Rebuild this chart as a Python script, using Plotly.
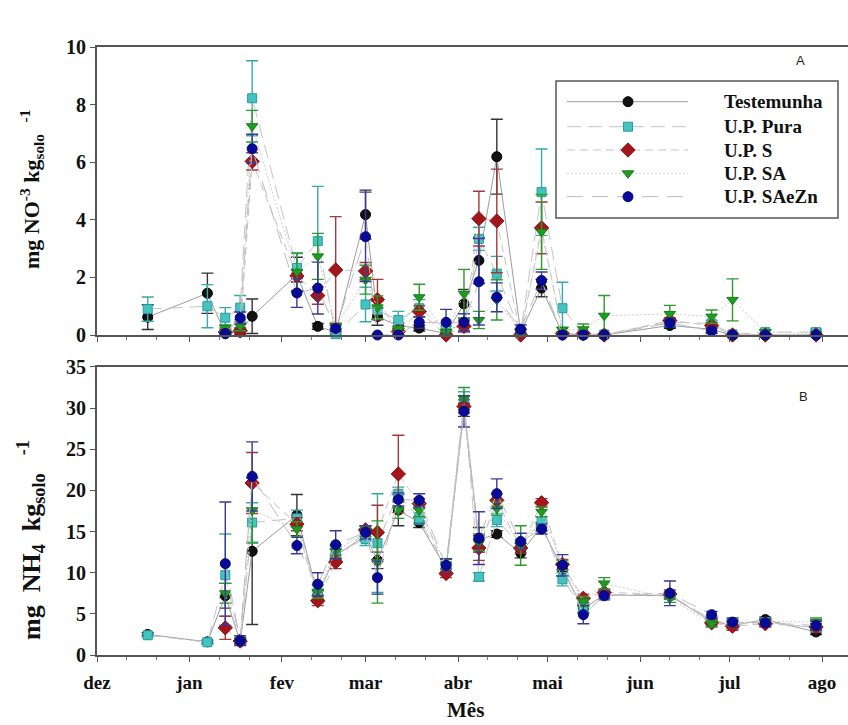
import plotly.graph_objects as go

# Sampling dates (day of collection)
dates = ["2012-12-18", "2013-01-07", "2013-01-13", "2013-01-18", "2013-01-22",
         "2013-02-06", "2013-02-13", "2013-02-19", "2013-03-01", "2013-03-05",
         "2013-03-12", "2013-03-19", "2013-03-28", "2013-04-03", "2013-04-08",
         "2013-04-14", "2013-04-22", "2013-04-29", "2013-05-06", "2013-05-13",
         "2013-05-20", "2013-06-11", "2013-06-25", "2013-07-02", "2013-07-13",
         "2013-07-30"]

month_ticks = ["2012-12-01", "2013-01-01", "2013-02-01", "2013-03-01", "2013-04-01",
               "2013-05-01", "2013-06-01", "2013-07-01", "2013-08-01"]
month_labels = ["dez", "jan", "fev", "mar", "abr", "mai", "jun", "jul", "ago"]

series_names = ["Testemunha", "U.P. Pura", "U.P. S", "U.P. SA", "U.P. SAeZn"]

# Panel A: nitrate (mg NO3 per kg soil), mean and error
no3_test = [0.62, 1.45, 0.05, 0.1, 0.65, 2.1, 0.3, 0.1, 4.18, 0.64, 0.32, 0.24, 0.05,
            1.08, 2.59, 6.19, 0.1, 1.63, 0.05, 0.0, 0.0, 0.33, 0.2, 0.0, 0.0, 0.0]
no3_test_err = [0.43, 0.7, 0.05, 0.1, 0.6, 0.6, 0.1, 0.1, 0.85, 0.3, 0.1, 0.1, 0.05,
                0.5, 0.8, 1.3, 0.1, 0.3, 0.05, 0, 0, 0.1, 0.1, 0, 0, 0]
no3_pura = [0.9, 1.0, 0.6, 0.95, 8.22, 2.33, 3.26, 0.03, 1.06, 0.87, 0.52, 0.93, 0.2,
            0.33, 3.34, 2.13, 0.1, 4.96, 0.93, 0.05, 0.02, 0.45, 0.4, 0.02, 0.1, 0.1]
no3_pura_err = [0.42, 0.75, 0.35, 0.42, 1.3, 0.5, 1.9, 0.05, 0.6, 0.3, 0.3, 0.3, 0.1,
                0.2, 0.4, 0.6, 0.1, 1.5, 0.9, 0.05, 0.05, 0.1, 0.1, 0.05, 0.08, 0.1]
no3_s = [None, None, 0.1, 0.15, 6.03, 2.05, 1.37, 2.26, 2.22, 1.23, 0.12, 0.82, 0.0,
         0.3, 4.04, 3.96, 0.0, 3.72, 0.05, 0.05, 0.0, 0.5, 0.33, 0.0, 0.0, 0.0]
no3_s_err = [None, None, 0.1, 0.1, 0.3, 0.2, 0.3, 1.85, 0.3, 0.7, 0.1, 0.2, 0.05,
             0.2, 0.95, 1.8, 0.05, 0.9, 0.05, 0.05, 0, 0.1, 0.1, 0, 0, 0]
no3_sa = [None, None, 0.25, 0.3, 7.25, 2.2, 2.73, 0.3, 1.92, 0.96, 0.2, 1.31, 0.1,
          1.43, 0.52, 1.22, 0.1, 3.58, 0.17, 0.2, 0.67, 0.73, 0.64, 1.22, 0.1, 0.05]
no3_sa_err = [None, None, 0.1, 0.15, 0.55, 0.65, 0.8, 0.1, 0.5, 0.4, 0.1, 0.45, 0.1,
              0.85, 0.3, 0.7, 0.1, 1.3, 0.1, 0.18, 0.7, 0.3, 0.23, 0.73, 0.08, 0.05]
no3_zn = [None, None, 0.05, 0.6, 6.47, 1.46, 1.63, 0.23, 3.41, 0.0, 0.0, 0.44, 0.44,
          0.44, 1.85, 1.31, 0.2, 1.89, 0.0, 0.0, 0.0, 0.42, 0.15, 0.0, 0.0, 0.0]
no3_zn_err = [None, None, 0.05, 0.2, 0.5, 0.5, 0.9, 0.1, 1.55, 0, 0, 0.2, 0.45,
              0.3, 1.5, 0.5, 0.15, 0.3, 0, 0, 0, 0.15, 0.1, 0, 0, 0]

# Panel B: ammonium (mg NH4 per kg soil), mean and error
nh4_test = [2.5, 1.6, 7.2, 1.6, 12.6, 17.0, 7.3, 12.1, 14.5, 11.5, 17.6, 16.1, 10.5,
            29.8, 14.0, 14.7, 12.4, 15.6, 10.4, 5.6, 7.3, 7.2, 4.1, 3.6, 4.3, 2.8]
nh4_test_err = [0.2, 0.2, 1.5, 0.3, 8.9, 2.5, 0.6, 0.8, 0.6, 1.0, 1.9, 0.6, 0.5,
                0.8, 1.5, 0.4, 0.6, 0.5, 0.8, 0.5, 0.4, 0.4, 0.3, 0.4, 0.3, 0.3]
nh4_pura = [2.4, 1.55, 9.7, 1.7, 16.1, 16.6, 7.0, 12.4, 14.1, 13.6, 19.6, 16.6, 10.5,
            31.0, 9.5, 16.4, 13.4, 16.2, 9.2, 5.7, 7.3, 7.3, 4.3, 3.7, 4.0, 3.3]
nh4_pura_err = [0.2, 0.2, 5.0, 0.3, 2.4, 1.0, 0.7, 0.8, 0.8, 6.0, 0.8, 0.7, 0.5,
                1.0, 0.5, 0.8, 0.6, 0.6, 0.8, 0.5, 0.4, 0.4, 0.4, 0.4, 0.3, 0.4]
nh4_s = [None, None, 3.3, 1.7, 20.9, 15.9, 6.6, 11.3, 15.2, 14.9, 22.0, 18.4, 9.9,
         30.2, 13.0, 18.8, 13.0, 18.5, 11.0, 6.9, 7.6, 7.4, 3.9, 3.5, 3.8, 3.4]
nh4_s_err = [None, None, 1.4, 0.3, 3.7, 0.8, 0.6, 0.8, 0.5, 3.3, 4.7, 0.6, 0.5,
             0.8, 1.5, 0.8, 0.6, 0.5, 0.6, 0.5, 0.4, 0.5, 0.4, 0.5, 0.4, 0.4]
nh4_sa = [None, None, 7.5, 1.8, 17.6, 15.3, 7.7, 12.6, 15.0, 11.3, 17.6, 17.6, 11.0,
          31.2, 13.7, 17.8, 13.3, 17.4, 10.9, 6.5, 8.7, 6.9, 3.8, 3.9, 4.1, 4.0]
nh4_sa_err = [None, None, 1.2, 0.3, 4.0, 0.9, 0.8, 0.8, 0.6, 5.0, 1.0, 0.8, 0.6,
              1.3, 1.0, 0.8, 2.4, 0.6, 0.6, 0.6, 0.7, 0.5, 0.4, 0.4, 0.3, 0.5]
nh4_zn = [None, None, 11.1, 1.74, 21.7, 13.3, 8.6, 13.4, 14.9, 9.4, 18.9, 18.8, 10.9,
          29.6, 14.2, 19.6, 13.8, 15.3, 10.9, 4.9, 7.2, 7.5, 4.9, 4.0, 3.9, 3.6]
nh4_zn_err = [None, None, 7.5, 0.6, 4.2, 1.0, 1.4, 1.7, 0.8, 2.0, 0.8, 0.8, 0.8,
              1.9, 3.2, 1.8, 1.0, 0.6, 1.3, 1.1, 0.5, 1.5, 0.4, 0.5, 0.4, 0.5]

no3_values = [no3_test, no3_pura, no3_s, no3_sa, no3_zn]
no3_errors = [no3_test_err, no3_pura_err, no3_s_err, no3_sa_err, no3_zn_err]
nh4_values = [nh4_test, nh4_pura, nh4_s, nh4_sa, nh4_zn]
nh4_errors = [nh4_test_err, nh4_pura_err, nh4_s_err, nh4_sa_err, nh4_zn_err]

# Styling for each treatment
styles = [
    dict(symbol="circle", size=10, color="#111111", edge="#000000", err="#333333",
         line="#9c9c9c", dash="solid"),
    dict(symbol="square", size=9, color="#45c3c3", edge="#2a9a9a", err="#3aa8a8",
         line="#c4c4c4", dash="14px,7px"),
    dict(symbol="diamond", size=11, color="#a3171c", edge="#8a1216", err="#a33a3a",
         line="#c4c4c4", dash="8px,5px"),
    dict(symbol="triangle-down", size=10, color="#1f9a22", edge="#17801a", err="#2c9a2c",
         line="#cccccc", dash="2px,2px"),
    dict(symbol="circle", size=10, color="#0a0a98", edge="#06067a", err="#3a3a96",
         line="#bcbcbc", dash="16px,9px"),
]

SERIF = "Liberation Serif, Times New Roman, serif"
NB = "\u00a0"

# Plot area in pixels: left 97, right 848, top 47, bottom 655
L, R, T, B = 97.0, 848.0, 47.0, 655.0


def px_x(p):
    return (p - L) / (R - L)


def px_y(p):
    return (B - p) / (B - T)


fig = go.Figure()

for vals_list, errs_list, xa, ya in [(no3_values, no3_errors, "x", "y"),
                                     (nh4_values, nh4_errors, "x2", "y2")]:
    for name, vals, errs, st in zip(series_names, vals_list, errs_list, styles):
        fig.add_trace(go.Scatter(
            x=dates, y=vals, name=name, mode="lines+markers",
            xaxis=xa, yaxis=ya, showlegend=False, cliponaxis=False,
            line=dict(color=st["line"], width=1, dash=st["dash"]),
            marker=dict(symbol=st["symbol"], size=st["size"], color=st["color"],
                        line=dict(color=st["edge"], width=1)),
            error_y=dict(type="data", array=errs, visible=True, color=st["err"],
                         thickness=1.4, width=6),
        ))

# Legend key drawn on a pixel-scaled helper axis
legend_rows = [101.7, 126.7, 150.0, 173.3, 196.7]
shapes = [dict(type="rect", xref="x3", yref="y3", x0=556, x1=838, y0=81, y1=218,
               line=dict(color="#555555", width=1.5), fillcolor="white", layer="below")]
annotations = []
for name, st, ry in zip(series_names, styles, legend_rows):
    shapes.append(dict(type="line", xref="x3", yref="y3", x0=567, x1=688, y0=ry, y1=ry,
                       line=dict(color=st["line"], width=1, dash=st["dash"]), layer="below"))
    fig.add_trace(go.Scatter(
        x=[628], y=[ry], mode="markers", xaxis="x3", yaxis="y3", showlegend=False,
        hoverinfo="skip", cliponaxis=False,
        marker=dict(symbol=st["symbol"], size=st["size"], color=st["color"],
                    line=dict(color=st["edge"], width=1)),
    ))
    annotations.append(dict(xref="x3", yref="y3", x=722, y=ry, text=name,
                            showarrow=False, xanchor="left", yanchor="middle",
                            font=dict(family=SERIF, size=19, color="#111111",
                                      weight="bold")))

# Panel letters
annotations.append(dict(xref="x3", yref="y3", x=800, y=60, text="A", showarrow=False,
                        font=dict(family="Liberation Sans, Arial, sans-serif", size=13,
                                  color="#222222")))
annotations.append(dict(xref="x3", yref="y3", x=803, y=396, text="B", showarrow=False,
                        font=dict(family="Liberation Sans, Arial, sans-serif", size=13,
                                  color="#222222")))

# Axis titles (paper coordinates, outside the plotting area)
annotations.append(dict(xref="paper", yref="paper", x=px_x(31), y=px_y(190),
                        xanchor="center", yanchor="middle", textangle=-90,
                        text="mg NO<sup>-3</sup> kg<sub>solo</sub><sup>" + NB * 3 + "-1</sup>",
                        showarrow=False,
                        font=dict(family=SERIF, size=22, color="#111111", weight="bold")))
annotations.append(dict(xref="paper", yref="paper", x=px_x(31), y=px_y(540),
                        xanchor="center", yanchor="middle", textangle=-90,
                        text="mg" + NB * 2 + "NH<sub>4</sub>" + NB * 2 + "kg<sub>solo</sub><sup>"
                             + NB * 4 + "-1</sup>",
                        showarrow=False,
                        font=dict(family=SERIF, size=26, color="#111111", weight="bold")))
annotations.append(dict(xref="paper", yref="paper", x=px_x(465), y=px_y(710),
                        xanchor="center", yanchor="middle", borderpad=0,
                        text="Mês", showarrow=False,
                        font=dict(family=SERIF, size=21, color="#111111", weight="bold")))

minor_ticks = []
for m in month_ticks:
    minor_ticks += [m[:8] + "11", m[:8] + "21"]

x_common = dict(type="date", range=["2012-12-01", "2013-08-09T17:00"],
                tickmode="array", tickvals=month_ticks, ticktext=month_labels,
                ticks="outside", ticklen=5, tickwidth=1.2, tickcolor="#555555",
                showline=True, linecolor="#555555", linewidth=2, mirror=True,
                showgrid=False, zeroline=False,
                minor=dict(tickmode="array", tickvals=minor_ticks, ticks="outside",
                           ticklen=3, tickcolor="#777777", showgrid=False),
                tickfont=dict(family=SERIF, size=19, color="#111111", weight="bold"))
y_common = dict(ticks="outside", ticklen=5, tickwidth=1.2, tickcolor="#555555",
                showline=True, linecolor="#555555", linewidth=2, mirror=False,
                showgrid=False, zeroline=False,
                tickfont=dict(family=SERIF, size=20, color="#111111", weight="bold"))

fig.update_layout(
    width=848, height=725,
    margin=dict(l=97, r=0, t=47, b=70),
    paper_bgcolor="white", plot_bgcolor="rgba(0,0,0,0)",
    showlegend=False,
    xaxis=dict(x_common, anchor="y", domain=[0, 1], showticklabels=False),
    yaxis=dict(y_common, anchor="x", domain=[0.5263, 1], range=[0, 10],
               tickvals=[0, 2, 4, 6, 8, 10]),
    xaxis2=dict(x_common, anchor="y2", domain=[0, 1], showticklabels=True,
                ticklabelstandoff=4),
    yaxis2=dict(y_common, anchor="x2", domain=[0, 0.4737], range=[0, 35],
                tickvals=[0, 5, 10, 15, 20, 25, 30, 35]),
    xaxis3=dict(domain=[0, 1], range=[L, R], visible=False, anchor="y3",
                fixedrange=True),
    yaxis3=dict(domain=[0, 1], range=[B, T], visible=False, anchor="x3",
                fixedrange=True),
    shapes=shapes,
    annotations=annotations,
)

fig.write_html("out.html")
